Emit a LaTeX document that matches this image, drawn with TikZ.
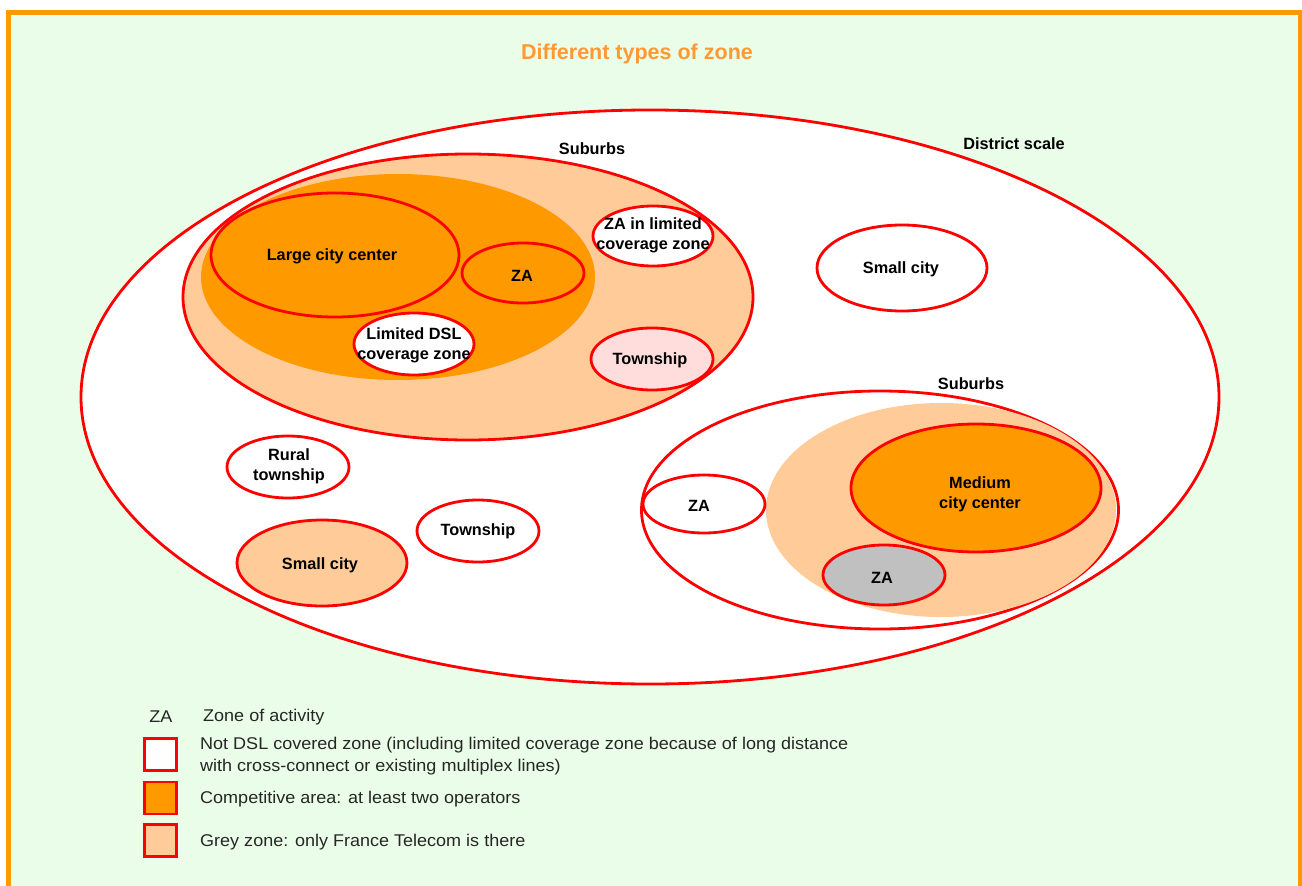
\documentclass[tikz,border=0pt]{standalone}
\usepackage{fontspec}
\setmainfont{Liberation Sans}
\newfontfamily\legfont[FakeStretch=1.06]{Liberation Sans}
\usetikzlibrary{shapes.geometric}
\definecolor{bggreen}{RGB}{234,253,232}
\definecolor{frameor}{RGB}{255,153,0}
\definecolor{zred}{RGB}{255,0,0}
\definecolor{compor}{RGB}{255,153,0}
\definecolor{greyzone}{RGB}{255,204,153}
\definecolor{pinkzone}{RGB}{255,221,221}
\definecolor{zagrey}{RGB}{192,192,192}
\definecolor{titleor}{RGB}{255,153,51}
\tikzset{
  zone/.style={ellipse, draw=zred, line width=2.8pt, inner sep=0pt},
  blob/.style={ellipse, inner sep=0pt},
  zlabel/.style={inner sep=0pt, align=center, yshift=-1.5pt, font=\fontsize{16.3}{20}\selectfont\bfseries, text=black},
  legtext/.style={inner sep=0pt, anchor=west, align=left, yshift=-1pt, font=\legfont\fontsize{17}{22}\selectfont, text=black!85},
  legbox/.style={draw=zred, line width=2.8pt, minimum size=32pt, inner sep=0pt},
  sz/.style 2 args={minimum width=#1pt, minimum height=#2pt}
}
\begin{document}
\begin{tikzpicture}[x=1pt,y=-1pt]
\useasboundingbox (0,0) rectangle (1302,886);
% frame
\filldraw[fill=bggreen, draw=frameor, line width=5pt] (8.5,12.5) rectangle (1300.5,900);
\node[zlabel, text=titleor, font=\fontsize{21.5}{26}\selectfont\bfseries] (title) at (637,52) {Different types of zone};

% district scale
\node[zone, fill=white, sz={1138}{574}] (district) at (650,397) {};
\node[zlabel] (districtlbl) at (1014,142) {District scale};

% upper-left suburbs
\node[zone, fill=greyzone, sz={570}{286}] (sub1) at (468,297) {};
\node[zlabel] (sub1lbl) at (592,147) {Suburbs};
\node[blob, fill=compor, sz={394}{206}] (comp1) at (398,277) {};
\node[zone, fill=compor, sz={248}{124}] (large) at (335,255) {};
\node[zlabel] (largelbl) at (332,255) {Large city center};
\node[zone, fill=compor, sz={122}{60}] (za1) at (523,273) {};
\node[zlabel] (za1lbl) at (522,274) {ZA};
\node[zone, fill=white, sz={120}{62}] (limdsl) at (414,344) {};
\node[zlabel] (limdsllbl) at (414,344) {Limited DSL\\coverage zone};
\node[zone, fill=white, sz={120}{60}] (zalim) at (653,236) {};
\node[zlabel] (zalimlbl) at (653,234) {ZA in limited\\coverage zone};
\node[zone, fill=pinkzone, sz={122}{62}] (town1) at (652,359) {};
\node[zlabel] (town1lbl) at (650,359) {Township};

% small city upper right
\node[zone, fill=white, sz={170}{86}] (smallcity1) at (902,268) {};
\node[zlabel] (smallcity1lbl) at (901,268) {Small city};

% lower-left zones
\node[zone, fill=white, sz={122}{62}] (rural) at (288,467) {};
\node[zlabel] (rurallbl) at (289,465) {Rural\\township};
\node[zone, fill=white, sz={122}{62}] (town2) at (478,531) {};
\node[zlabel] (town2lbl) at (478,530) {Township};
\node[zone, fill=greyzone, sz={170}{86}] (smallcity2) at (322,563) {};
\node[zlabel] (smallcity2lbl) at (320,564) {Small city};

% right suburbs
\node[zone, fill=white, sz={477}{238}] (sub2) at (880,510) {};
\node[zlabel] (sub2lbl) at (971,382) {Suburbs};
\node[blob, fill=greyzone, sz={350}{214}] (grey2) at (941,510) {};
\node[zone, fill=compor, sz={250}{128}] (medium) at (976,488) {};
\node[zlabel] (mediumlbl) at (980,493) {Medium\\city center};
\node[zone, fill=zagrey, sz={122}{60}] (za3) at (884,575) {};
\node[zlabel] (za3lbl) at (882,576) {ZA};
\node[zone, fill=white, sz={122}{58}] (za2) at (704,504) {};
\node[zlabel] (za2lbl) at (699,504) {ZA};

% legend
\node[legtext, anchor=center] (legza) at (161,716) {ZA};
\node[legtext] (legzatxt) at (203,716) {Zone of activity};
\node[legbox, fill=white] (box1) at (160.5,754.5) {};
\node[legtext] (leg1) at (200,755) {Not DSL covered zone (including limited coverage zone because of long distance\\with cross-connect or existing multiplex lines)};
\node[legbox, fill=compor] (box2) at (160.5,798) {};
\node[legtext] (leg2) at (200,798) {Competitive area: at least two operators};
\node[legbox, fill=greyzone] (box3) at (160.5,840.5) {};
\node[legtext] (leg3) at (200,841) {Grey zone: only France Telecom is there};
\end{tikzpicture}
\end{document}
